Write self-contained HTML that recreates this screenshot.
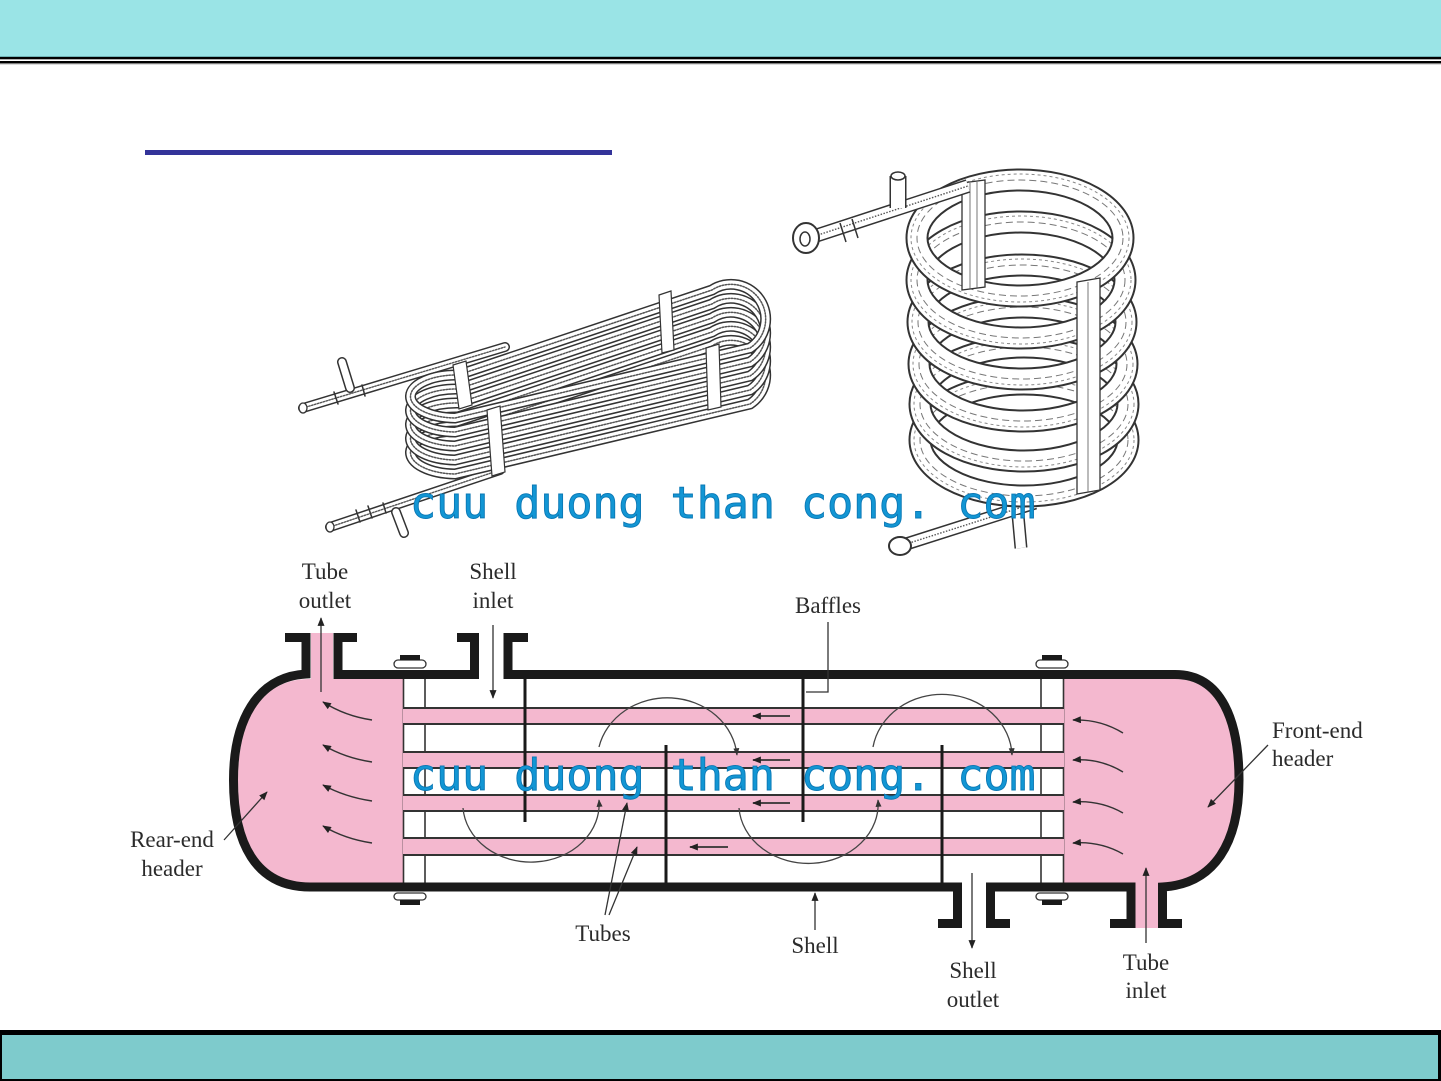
<!DOCTYPE html>
<html>
<head>
<meta charset="utf-8">
<style>
html,body{margin:0;padding:0;background:#fff;}
body{width:1441px;height:1081px;overflow:hidden;}
svg{display:block;}
</style>
</head>
<body>
<svg width="1441" height="1081" viewBox="0 0 1441 1081" xmlns="http://www.w3.org/2000/svg">
<defs>
<marker id="ah" viewBox="0 0 10 8" refX="9" refY="4" markerWidth="9" markerHeight="7" markerUnits="userSpaceOnUse" orient="auto"><path d="M0,0 L10,4 L0,8 z" fill="#222"/></marker>
<marker id="ahs" viewBox="0 0 10 8" refX="9" refY="4" markerWidth="8" markerHeight="6" markerUnits="userSpaceOnUse" orient="auto"><path d="M0,0 L10,4 L0,8 z" fill="#333"/></marker>
</defs>

<!-- top bar -->
<rect x="0" y="0" width="1441" height="56" fill="#9ae4e6"/>
<rect x="0" y="56" width="1441" height="1" fill="#6fb3b5"/>
<rect x="0" y="57" width="1441" height="2.3" fill="#000"/>
<rect x="0" y="61" width="1441" height="2.3" fill="#000"/>
<rect x="0" y="63.3" width="1441" height="1" fill="#888"/>

<!-- blue underline -->
<rect x="145" y="150" width="467" height="5" fill="#333399"/>

<!-- ============ LEFT FLAT COIL ============ -->
<g fill="none" stroke-linecap="round">
  <!-- pipes -->
  <g>
    <path d="M303 408 L505 347" stroke="#333" stroke-width="10"/>
    <path d="M303 408 L505 347" stroke="#fff" stroke-width="7"/>
    <path d="M303 408 L505 347" stroke="#555" stroke-width="1.4" stroke-dasharray="1.5 1.5"/>
    <path d="M350 388 L342 362" stroke="#333" stroke-width="10"/>
    <path d="M350 388 L342 362" stroke="#fff" stroke-width="7"/>
    <path d="M330 527 L500 470" stroke="#333" stroke-width="10"/>
    <path d="M330 527 L500 470" stroke="#fff" stroke-width="7"/>
    <path d="M330 527 L500 470" stroke="#555" stroke-width="1.4" stroke-dasharray="1.5 1.5"/>
    <path d="M396 512 L404 533" stroke="#333" stroke-width="10"/>
    <path d="M396 512 L404 533" stroke="#fff" stroke-width="7"/>
    <ellipse cx="303" cy="408" rx="4" ry="5" stroke="#333" stroke-width="1.3" fill="#fff"/>
    <ellipse cx="330" cy="527" rx="4" ry="5" stroke="#333" stroke-width="1.3" fill="#fff"/>
    <path d="M334 392 L338 404 M362 385 L365 396 M368 506 L372 518 M356 510 L360 522 M383 503 L386 513" stroke="#333" stroke-width="1.5"/>
  </g>
  <!-- loops (bottom to top) -->
  <g>
    <path d="M458 431 L712 346 A34 34 0 0 1 750 404 L455 474 A46 21.5 0 0 1 458 431 Z" stroke="#333" stroke-width="11"/>
    <path d="M458 431 L712 346 A34 34 0 0 1 750 404 L455 474 A46 21.5 0 0 1 458 431 Z" stroke="#fff" stroke-width="8"/>
    <path d="M458 431 L712 346 A34 34 0 0 1 750 404 L455 474 A46 21.5 0 0 1 458 431 Z" stroke="#555" stroke-width="1.5" stroke-dasharray="1.5 1.5"/>
  </g>
  <g>
    <path d="M458 417 L712 332 A34 34 0 0 1 750 390 L455 460 A46 21.5 0 0 1 458 417 Z" stroke="#333" stroke-width="11"/>
    <path d="M458 417 L712 332 A34 34 0 0 1 750 390 L455 460 A46 21.5 0 0 1 458 417 Z" stroke="#fff" stroke-width="8"/>
    <path d="M458 417 L712 332 A34 34 0 0 1 750 390 L455 460 A46 21.5 0 0 1 458 417 Z" stroke="#555" stroke-width="1.5" stroke-dasharray="1.5 1.5"/>
  </g>
  <g>
    <path d="M458 403 L712 318 A34 34 0 0 1 750 376 L455 446 A46 21.5 0 0 1 458 403 Z" stroke="#333" stroke-width="11"/>
    <path d="M458 403 L712 318 A34 34 0 0 1 750 376 L455 446 A46 21.5 0 0 1 458 403 Z" stroke="#fff" stroke-width="8"/>
    <path d="M458 403 L712 318 A34 34 0 0 1 750 376 L455 446 A46 21.5 0 0 1 458 403 Z" stroke="#555" stroke-width="1.5" stroke-dasharray="1.5 1.5"/>
  </g>
  <g>
    <path d="M458 389 L712 304 A34 34 0 0 1 750 362 L455 432 A46 21.5 0 0 1 458 389 Z" stroke="#333" stroke-width="11"/>
    <path d="M458 389 L712 304 A34 34 0 0 1 750 362 L455 432 A46 21.5 0 0 1 458 389 Z" stroke="#fff" stroke-width="8"/>
    <path d="M458 389 L712 304 A34 34 0 0 1 750 362 L455 432 A46 21.5 0 0 1 458 389 Z" stroke="#555" stroke-width="1.5" stroke-dasharray="1.5 1.5"/>
  </g>
  <g>
    <path d="M458 375 L712 290 A34 34 0 0 1 750 348 L455 418 A46 21.5 0 0 1 458 375 Z" stroke="#333" stroke-width="11"/>
    <path d="M458 375 L712 290 A34 34 0 0 1 750 348 L455 418 A46 21.5 0 0 1 458 375 Z" stroke="#fff" stroke-width="8"/>
    <path d="M458 375 L712 290 A34 34 0 0 1 750 348 L455 418 A46 21.5 0 0 1 458 375 Z" stroke="#555" stroke-width="1.5" stroke-dasharray="1.5 1.5"/>
  </g>
  <!-- straps -->
  <polygon points="453,365 466,361 472,405 459,409" fill="#fff" stroke="#333" stroke-width="1.2"/>
  <polygon points="487,410 500,406 505,472 492,476" fill="#fff" stroke="#333" stroke-width="1.2"/>
  <polygon points="659,295 671,291 674,350 662,353" fill="#fff" stroke="#333" stroke-width="1.2"/>
  <polygon points="706,348 719,344 721,407 708,410" fill="#fff" stroke="#333" stroke-width="1.2"/>
</g>

<!-- ============ RIGHT HELICAL COIL ============ -->
<g fill="none">
  <!-- bottom pipe -->
  <path d="M903 545 L1035 503" stroke="#333" stroke-width="13"/>
  <path d="M903 545 L1035 503" stroke="#fff" stroke-width="10"/>
  <path d="M903 545 L1035 503" stroke="#555" stroke-width="1.4" stroke-dasharray="1.5 1.5"/>
  <path d="M1018 515 L1021 548" stroke="#333" stroke-width="13"/>
  <path d="M1018 515 L1021 548" stroke="#fff" stroke-width="10"/>
  <ellipse cx="900" cy="546" rx="11" ry="9" fill="#fff" stroke="#333" stroke-width="2"/>
  <!-- rings bottom to top -->
  <g stroke-width="1">
    <ellipse cx="1024" cy="440" rx="104" ry="56" stroke="#333" stroke-width="23"/>
    <ellipse cx="1024" cy="440" rx="104" ry="56" stroke="#fff" stroke-width="19"/>
    <ellipse cx="1024" cy="440" rx="104" ry="56" stroke="#777" stroke-dasharray="7 4"/>
    <ellipse cx="1024" cy="440" rx="110" ry="62" stroke="#888" stroke-dasharray="3 3"/>
    <ellipse cx="1024" cy="404" rx="104" ry="57" stroke="#333" stroke-width="23"/>
    <ellipse cx="1024" cy="404" rx="104" ry="57" stroke="#fff" stroke-width="19"/>
    <ellipse cx="1024" cy="404" rx="104" ry="57" stroke="#777" stroke-dasharray="7 4"/>
    <ellipse cx="1024" cy="404" rx="110" ry="63" stroke="#888" stroke-dasharray="3 3"/>
    <ellipse cx="1023" cy="364" rx="104" ry="57" stroke="#333" stroke-width="23"/>
    <ellipse cx="1023" cy="364" rx="104" ry="57" stroke="#fff" stroke-width="19"/>
    <ellipse cx="1023" cy="364" rx="104" ry="57" stroke="#777" stroke-dasharray="7 4"/>
    <ellipse cx="1023" cy="364" rx="110" ry="63" stroke="#888" stroke-dasharray="3 3"/>
    <ellipse cx="1022" cy="322" rx="104" ry="57" stroke="#333" stroke-width="23"/>
    <ellipse cx="1022" cy="322" rx="104" ry="57" stroke="#fff" stroke-width="19"/>
    <ellipse cx="1022" cy="322" rx="104" ry="57" stroke="#777" stroke-dasharray="7 4"/>
    <ellipse cx="1022" cy="322" rx="110" ry="63" stroke="#888" stroke-dasharray="3 3"/>
    <ellipse cx="1021" cy="280" rx="104" ry="58" stroke="#333" stroke-width="23"/>
    <ellipse cx="1021" cy="280" rx="104" ry="58" stroke="#fff" stroke-width="19"/>
    <ellipse cx="1021" cy="280" rx="104" ry="58" stroke="#777" stroke-dasharray="7 4"/>
    <ellipse cx="1021" cy="280" rx="110" ry="64" stroke="#888" stroke-dasharray="3 3"/>
    <ellipse cx="1020" cy="238" rx="103" ry="58" stroke="#333" stroke-width="23"/>
    <ellipse cx="1020" cy="238" rx="103" ry="58" stroke="#fff" stroke-width="19"/>
    <ellipse cx="1020" cy="238" rx="103" ry="58" stroke="#777" stroke-dasharray="7 4"/>
    <ellipse cx="1020" cy="238" rx="109" ry="64" stroke="#888" stroke-dasharray="3 3"/>
  </g>
  <!-- straps -->
  <polygon points="962,183 985,180 985,287 962,290" fill="#fff" stroke="#333" stroke-width="1.3"/>
  <path d="M970 183 L970 289 M977 182 L977 288" stroke="#555" stroke-width="0.8"/>
  <polygon points="1077,282 1100,278 1100,490 1077,494" fill="#fff" stroke="#333" stroke-width="1.3"/>
  <path d="M1088 282 L1088 492" stroke="#555" stroke-width="0.8"/>
  <!-- top pipe -->
  <path d="M815 236 L968 186" stroke="#333" stroke-width="14"/>
  <path d="M815 236 L968 186" stroke="#fff" stroke-width="11"/>
  <path d="M815 236 L968 186" stroke="#555" stroke-width="1.4" stroke-dasharray="1.5 1.5"/>
  <path d="M898 208 L898 176" stroke="#333" stroke-width="17"/>
  <path d="M898 208 L898 176" stroke="#fff" stroke-width="14"/>
  <ellipse cx="898" cy="176" rx="7" ry="4" fill="#fff" stroke="#333" stroke-width="1.5"/>
  <ellipse cx="806" cy="238" rx="13" ry="15" fill="#fff" stroke="#333" stroke-width="2"/>
  <ellipse cx="805" cy="239" rx="5" ry="7" fill="#fff" stroke="#333" stroke-width="1.5"/>
  <path d="M840 223 L846 242 M852 219 L858 238" stroke="#333" stroke-width="1.5"/>
</g>

<!-- ============ SHELL & TUBE EXCHANGER ============ -->
<!-- pink regions -->
<g fill="#f4b8cf">
  <path d="M403 679 L308 679 C258 680 238 725 238 780 C238 840 258 882 308 883 L403 883 Z"/>
  <rect x="311" y="633" width="22" height="48"/>
  <path d="M1064 679 L1175 679 C1220 679 1235 725 1235 780 C1235 840 1218 880 1170 883 L1064 883 Z"/>
  <rect x="1134" y="880" width="25" height="48"/>
  <rect x="403" y="708" width="661" height="16"/>
  <rect x="403" y="752" width="661" height="16"/>
  <rect x="403" y="795" width="661" height="16"/>
  <rect x="403" y="838" width="661" height="17"/>
</g>

<!-- tube sheets -->
<g stroke="#333" stroke-width="1.6">
  <line x1="403.5" y1="679" x2="403.5" y2="883"/>
  <line x1="425" y1="679" x2="425" y2="883"/>
  <line x1="1041" y1="679" x2="1041" y2="883"/>
  <line x1="1063.5" y1="679" x2="1063.5" y2="883"/>
</g>
<g fill="#f4b8cf">
  <rect x="403" y="709" width="661" height="14"/>
  <rect x="403" y="753" width="661" height="14"/>
  <rect x="403" y="796" width="661" height="14"/>
  <rect x="403" y="839" width="661" height="15"/>
</g>
<!-- tube lines -->
<g stroke="#333" stroke-width="2">
  <line x1="403" y1="708" x2="1064" y2="708"/>
  <line x1="403" y1="724" x2="1064" y2="724"/>
  <line x1="403" y1="752" x2="1064" y2="752"/>
  <line x1="403" y1="768" x2="1064" y2="768"/>
  <line x1="403" y1="795" x2="1064" y2="795"/>
  <line x1="403" y1="811" x2="1064" y2="811"/>
  <line x1="403" y1="838" x2="1064" y2="838"/>
  <line x1="403" y1="855" x2="1064" y2="855"/>
</g>

<!-- baffles -->
<g stroke="#1a1a1a" stroke-width="3">
  <line x1="525" y1="679" x2="525" y2="822"/>
  <line x1="666" y1="745" x2="666" y2="883"/>
  <line x1="803" y1="679" x2="803" y2="822"/>
  <line x1="942" y1="745" x2="942" y2="883"/>
</g>

<!-- shell outline -->
<g fill="none" stroke="#1a1a1a" stroke-width="9" stroke-linejoin="miter">
  <path d="M285 637.5 L306 637.5 L306 674 C256 677 233.5 722 233.5 780 C233.5 842 255 887 310 887 L957.5 887 L957.5 923.5 L938 923.5"/>
  <path d="M357 637.5 L338 637.5 L338 674.5 L474.5 674.5 L474.5 637.5 L457 637.5"/>
  <path d="M528 637.5 L508 637.5 L508 674.5 L1175 674.5 C1222 674.5 1239 722 1239 780 C1239 842 1215 884 1162.5 887 L1162.5 923.5 L1182 923.5"/>
  <path d="M1010 923.5 L990.5 923.5 L990.5 887 L1131 887 L1131 923.5 L1110 923.5"/>
</g>

<!-- tube sheet bolts -->
<g stroke="#333" stroke-width="1.3" fill="#fff">
  <rect x="394" y="660" width="32" height="8" rx="4"/>
  <rect x="1036" y="660" width="32" height="8" rx="4"/>
  <rect x="394" y="893" width="32" height="7" rx="3.5"/>
  <rect x="1036" y="893" width="32" height="7" rx="3.5"/>
</g>
<g fill="#1a1a1a">
  <rect x="400" y="655" width="20" height="5"/>
  <rect x="1042" y="655" width="20" height="5"/>
  <rect x="400" y="900" width="20" height="5"/>
  <rect x="1042" y="900" width="20" height="5"/>
</g>

<!-- shell-side flow arcs -->
<g fill="none" stroke="#444" stroke-width="1.3">
  <path d="M599 747 A70 63 0 0 1 737 755" marker-end="url(#ahs)"/>
  <path d="M463 808 A68 58 0 0 0 599 800" marker-end="url(#ahs)"/>
  <path d="M739 808 A68 58 0 0 0 878 800" marker-end="url(#ahs)"/>
  <path d="M873 747 A70 63 0 0 1 1012 755" marker-end="url(#ahs)"/>
</g>

<!-- tube flow arrows -->
<g stroke="#333" stroke-width="1.8" fill="none">
  <line x1="790" y1="716" x2="753" y2="716" marker-end="url(#ah)"/>
  <line x1="790" y1="760" x2="753" y2="760" marker-end="url(#ah)"/>
  <line x1="790" y1="803" x2="753" y2="803" marker-end="url(#ah)"/>
  <line x1="728" y1="847" x2="690" y2="847" marker-end="url(#ah)"/>
</g>

<!-- header arrows -->
<g stroke="#333" stroke-width="1.4" fill="none">
  <path d="M372 720 Q345 716 323 702" marker-end="url(#ah)"/>
  <path d="M372 762 Q345 758 323 745" marker-end="url(#ah)"/>
  <path d="M372 801 Q345 797 323 785" marker-end="url(#ah)"/>
  <path d="M372 843 Q345 839 323 826" marker-end="url(#ah)"/>
  <path d="M1123 733 Q1100 719 1073 720" marker-end="url(#ah)"/>
  <path d="M1123 772 Q1100 758 1073 760" marker-end="url(#ah)"/>
  <path d="M1123 813 Q1100 800 1073 802" marker-end="url(#ah)"/>
  <path d="M1123 854 Q1100 841 1073 843" marker-end="url(#ah)"/>
</g>

<!-- leaders / nozzle arrows -->
<g stroke="#333" stroke-width="1.3" fill="none">
  <line x1="321" y1="692" x2="321" y2="618" marker-end="url(#ah)"/>
  <line x1="493" y1="625" x2="493" y2="698" marker-end="url(#ah)"/>
  <line x1="972" y1="873" x2="972" y2="948" marker-end="url(#ah)"/>
  <line x1="1146" y1="943" x2="1146" y2="868" marker-end="url(#ah)"/>
  <line x1="815" y1="930" x2="815" y2="893" marker-end="url(#ah)"/>
  <line x1="605" y1="915" x2="627" y2="803" marker-end="url(#ah)"/>
  <line x1="609" y1="915" x2="637" y2="847" marker-end="url(#ah)"/>
  <line x1="224" y1="840" x2="267" y2="792" marker-end="url(#ah)"/>
  <line x1="1268" y1="745" x2="1208" y2="807" marker-end="url(#ah)"/>
  <polyline points="828,622 828,692 806,692"/>
</g>

<!-- labels -->
<g font-family="'Liberation Serif', serif" font-size="23" fill="#2b2b2b" text-anchor="middle">
  <text x="325" y="579">Tube</text>
  <text x="325" y="608">outlet</text>
  <text x="493" y="579">Shell</text>
  <text x="493" y="608">inlet</text>
  <text x="828" y="613">Baffles</text>
  <text x="172" y="847">Rear-end</text>
  <text x="172" y="876">header</text>
  <text x="603" y="941">Tubes</text>
  <text x="815" y="953">Shell</text>
  <text x="973" y="978">Shell</text>
  <text x="973" y="1007">outlet</text>
  <text x="1146" y="970">Tube</text>
  <text x="1146" y="998">inlet</text>
  <text x="1272" y="738" text-anchor="start">Front-end</text>
  <text x="1272" y="766" text-anchor="start">header</text>
</g>

<!-- watermarks -->
<g font-family="'DejaVu Sans Mono', monospace" font-size="43.3" fill="#1296d4" stroke="#0b78b5" stroke-width="0.9">
  <text x="410" y="518">cuu duong than cong. com</text>
  <text x="410" y="790">cuu duong than cong. com</text>
</g>

<!-- bottom bar -->
<rect x="0" y="1030" width="1441" height="51" fill="#000"/>
<rect x="2" y="1035" width="1436" height="44" fill="#7ecbcc"/>
</svg>
</body>
</html>
